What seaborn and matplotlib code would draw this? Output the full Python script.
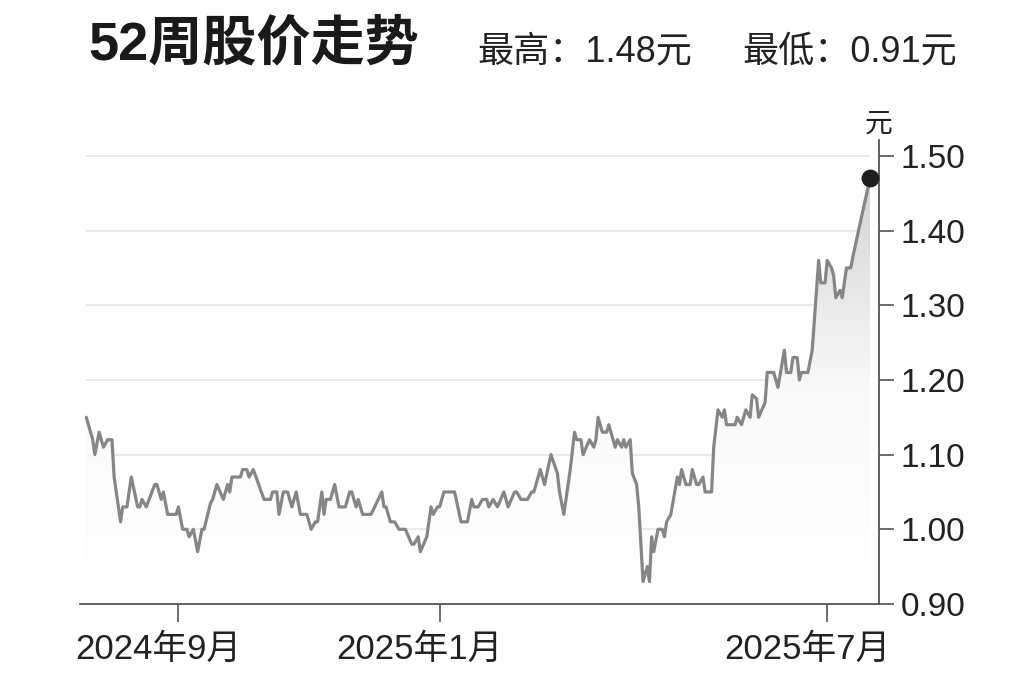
import seaborn as sns
import matplotlib.pyplot as plt
import matplotlib.dates as mdates
import matplotlib.transforms as mtransforms
from matplotlib.colors import LinearSegmentedColormap
import numpy as np
import pandas as pd

# 52-week closing prices
dates = [
    "2024-07-20", "2024-07-21", "2024-07-23", "2024-07-24", "2024-07-26", "2024-07-28",
    "2024-07-30", "2024-08-01", "2024-08-02", "2024-08-05", "2024-08-06", "2024-08-08",
    "2024-08-10", "2024-08-13", "2024-08-14", "2024-08-15", "2024-08-17", "2024-08-21",
    "2024-08-22", "2024-08-24", "2024-08-25", "2024-08-27", "2024-08-31", "2024-09-01",
    "2024-09-03", "2024-09-05", "2024-09-06", "2024-09-08", "2024-09-10", "2024-09-12",
    "2024-09-13", "2024-09-16", "2024-09-17", "2024-09-19", "2024-09-22", "2024-09-24",
    "2024-09-25", "2024-09-26", "2024-09-30", "2024-10-01", "2024-10-03", "2024-10-04",
    "2024-10-06", "2024-10-11", "2024-10-14", "2024-10-15", "2024-10-17", "2024-10-18",
    "2024-10-20", "2024-10-22", "2024-10-24", "2024-10-26", "2024-10-28", "2024-10-29",
    "2024-10-31", "2024-11-02", "2024-11-04", "2024-11-05", "2024-11-07", "2024-11-08",
    "2024-11-09", "2024-11-11", "2024-11-13", "2024-11-15", "2024-11-18", "2024-11-20",
    "2024-11-21", "2024-11-23", "2024-11-24", "2024-11-26", "2024-11-30", "2024-12-05",
    "2024-12-06", "2024-12-07", "2024-12-09", "2024-12-11", "2024-12-13", "2024-12-16",
    "2024-12-19", "2024-12-20", "2024-12-22", "2024-12-23", "2024-12-26", "2024-12-28",
    "2024-12-29", "2024-12-31", "2025-01-01", "2025-01-03", "2025-01-08", "2025-01-11",
    "2025-01-14", "2025-01-16", "2025-01-17", "2025-01-19", "2025-01-21", "2025-01-23",
    "2025-01-24", "2025-01-26", "2025-01-28", "2025-01-31", "2025-02-02", "2025-02-05",
    "2025-02-06", "2025-02-08", "2025-02-11", "2025-02-13", "2025-02-14", "2025-02-15",
    "2025-02-17", "2025-02-19", "2025-02-22", "2025-02-25", "2025-02-26", "2025-02-28",
    "2025-03-01", "2025-03-03", "2025-03-05", "2025-03-06", "2025-03-08", "2025-03-09",
    "2025-03-12", "2025-03-14", "2025-03-15", "2025-03-16", "2025-03-18", "2025-03-20",
    "2025-03-21", "2025-03-23", "2025-03-24", "2025-03-25", "2025-03-27", "2025-03-28",
    "2025-03-29", "2025-03-31", "2025-04-01", "2025-04-03", "2025-04-04", "2025-04-06",
    "2025-04-08", "2025-04-09", "2025-04-10", "2025-04-11", "2025-04-13", "2025-04-15",
    "2025-04-16", "2025-04-17", "2025-04-19", "2025-04-22", "2025-04-23", "2025-04-24",
    "2025-04-26", "2025-04-28", "2025-04-29", "2025-05-01", "2025-05-02", "2025-05-04",
    "2025-05-05", "2025-05-08", "2025-05-09", "2025-05-11", "2025-05-13", "2025-05-14",
    "2025-05-15", "2025-05-19", "2025-05-20", "2025-05-22", "2025-05-24", "2025-05-26",
    "2025-05-27", "2025-05-29", "2025-05-30", "2025-06-02", "2025-06-03", "2025-06-06",
    "2025-06-08", "2025-06-11", "2025-06-12", "2025-06-14", "2025-06-15", "2025-06-17",
    "2025-06-18", "2025-06-19", "2025-06-22", "2025-06-24", "2025-06-25", "2025-06-27",
    "2025-06-28", "2025-06-30", "2025-07-01", "2025-07-03", "2025-07-04", "2025-07-05",
    "2025-07-07", "2025-07-08", "2025-07-10", "2025-07-12", "2025-07-13", "2025-07-16",
    "2025-07-21",
]
prices = [
    1.15, 1.14, 1.12, 1.10, 1.13, 1.11,
    1.12, 1.12, 1.07, 1.01, 1.03, 1.03,
    1.07, 1.03, 1.03, 1.04, 1.03, 1.06,
    1.06, 1.04, 1.05, 1.02, 1.02, 1.03,
    1.00, 1.00, 0.99, 1.00, 0.97, 1.00,
    1.00, 1.035, 1.04, 1.06, 1.04, 1.06,
    1.05, 1.07, 1.07, 1.08, 1.08, 1.07,
    1.08, 1.04, 1.04, 1.05, 1.05, 1.02,
    1.05, 1.05, 1.03, 1.05, 1.02, 1.02,
    1.02, 1.00, 1.01, 1.01, 1.05, 1.02,
    1.04, 1.04, 1.06, 1.03, 1.03, 1.05,
    1.05, 1.03, 1.04, 1.02, 1.02, 1.05,
    1.03, 1.03, 1.01, 1.01, 1.00, 1.00,
    0.98, 0.98, 0.99, 0.97, 0.99, 1.03,
    1.02, 1.03, 1.03, 1.05, 1.05, 1.01,
    1.01, 1.04, 1.03, 1.03, 1.04, 1.04,
    1.03, 1.04, 1.03, 1.05, 1.03, 1.05,
    1.05, 1.04, 1.04, 1.05, 1.05, 1.06,
    1.08, 1.06, 1.10, 1.075, 1.05, 1.02,
    1.04, 1.08, 1.13, 1.12, 1.12, 1.10,
    1.12, 1.11, 1.12, 1.15, 1.13, 1.13,
    1.14, 1.12, 1.11, 1.12, 1.11, 1.12,
    1.11, 1.12, 1.075, 1.06, 1.03, 0.93,
    0.95, 0.93, 0.99, 0.97, 1.00, 1.00,
    0.99, 1.01, 1.02, 1.07, 1.06, 1.08,
    1.06, 1.06, 1.08, 1.06, 1.06, 1.07,
    1.05, 1.05, 1.11, 1.16, 1.15, 1.16,
    1.14, 1.14, 1.15, 1.14, 1.16, 1.15,
    1.18, 1.175, 1.15, 1.17, 1.21, 1.21,
    1.19, 1.24, 1.21, 1.21, 1.23, 1.23,
    1.20, 1.21, 1.21, 1.24, 1.28, 1.36,
    1.33, 1.33, 1.36, 1.35, 1.34, 1.31,
    1.32, 1.31, 1.35, 1.35, 1.365, 1.405,
    1.47,
]

month_ticks = ["2024-09-01", "2025-01-01", "2025-07-01"]
month_labels = ["2024年9月", "2025年1月", "2025年7月"]
y_ticks = [0.90, 1.00, 1.10, 1.20, 1.30, 1.40, 1.50]
title = "52周股价走势"
high_text = "最高：1.48元"
low_text = "最低：0.91元"

df = pd.DataFrame({"date": pd.to_datetime(dates), "price": prices})

sns.set_style("white")
plt.rcParams["font.family"] = ["Liberation Sans", "Noto Sans CJK SC", "DejaVu Sans"]

fig = plt.figure(figsize=(10.24, 6.82), dpi=100)
ax = fig.add_axes([0.078, 0.1144, 0.780, 0.680])

x_start = pd.Timestamp("2024-07-17")
x_end = pd.Timestamp("2025-07-25")
ax.set_xlim(x_start, x_end)
ax.set_ylim(0.90, 1.521)

# grid lines only across the data span
ax.hlines(y_ticks[1:], df["date"].iloc[0], df["date"].iloc[-1],
          color="#e4e4e4", lw=1.1, zorder=0)

# grey gradient under the line
fill = ax.fill_between(df["date"], df["price"], 0.90, color="none", lw=0)
clip = fill.get_paths()[0]
cmap = LinearSegmentedColormap.from_list("fade", ["#ffffff", "#f9f9f9", "#d2d2d2"])
grad = np.linspace(0, 1, 256).reshape(-1, 1)
x0 = mdates.date2num(df["date"].iloc[0])
x1 = mdates.date2num(df["date"].iloc[-1])
img = ax.imshow(grad, cmap=cmap, origin="lower", aspect="auto",
                extent=[x0, x1, 0.90, 1.48], zorder=1)
img.set_clip_path(clip, transform=ax.transData)

sns.lineplot(data=df, x="date", y="price", ax=ax, color="#868686", lw=2.3, zorder=3)
ax.scatter(df["date"].iloc[-1], df["price"].iloc[-1], s=140, color="#1e1e1e", zorder=4)

# axes styling
for side in ["left", "top"]:
    ax.spines[side].set_visible(False)
for side in ["right", "bottom"]:
    ax.spines[side].set_color("#555555")
    ax.spines[side].set_linewidth(1.3)

ax.yaxis.tick_right()
ax.set_yticks(y_ticks)
ax.set_yticklabels([f"{v:.2f}" for v in y_ticks])
ax.tick_params(axis="y", which="major", right=True, left=False, direction="out",
               length=11, width=1.2, color="#555555", pad=5, labelsize=24,
               labelcolor="#222222")

ax.set_xticks(pd.to_datetime(month_ticks))
ax.set_xticklabels(month_labels)
ax.tick_params(axis="x", which="major", bottom=True, direction="out", length=13,
               width=1.2, color="#555555", pad=8, labelsize=25, labelcolor="#222222")
shift = mtransforms.ScaledTranslation(-20 / 100, 0, fig.dpi_scale_trans)
for lab in ax.get_xticklabels():
    lab.set_transform(lab.get_transform() + shift)
ax.set_xlabel("")
ax.set_ylabel("")
ax.grid(False)

ax.text(1.0, 1.005, "元", transform=ax.transAxes, ha="center", va="bottom",
        fontsize=20, color="#222222")

fig.text(88 / 1024, 1 - 45 / 682, title, ha="left", va="center",
         fontsize=39, fontweight="heavy", color="#1a1a1a")
fig.text(477 / 1024, 1 - 52 / 682, high_text, ha="left", va="center",
         fontsize=26, color="#222222")
fig.text(742 / 1024, 1 - 52 / 682, low_text, ha="left", va="center",
         fontsize=26, color="#222222")

fig.savefig("out.png", dpi=100, facecolor="white")
